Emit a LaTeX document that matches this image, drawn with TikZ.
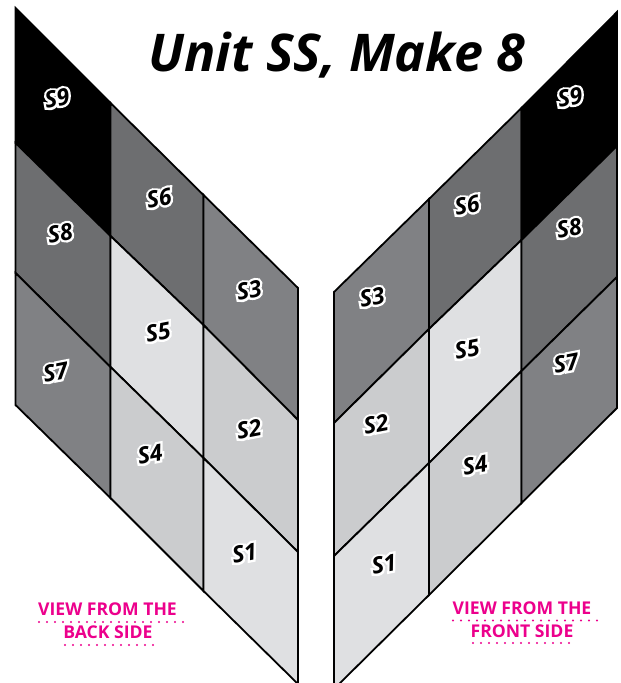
\documentclass[tikz,border=0pt]{standalone}
\usepackage{fontspec}
\setmainfont{Open Sans}
\newfontface\halofont{Open Sans Bold Italic}[FakeBold=20]
\newcommand{\halotext}[1]{\leavevmode\rlap{\color{white}\halofont #1}#1}
\definecolor{shadeblack}{HTML}{000000}
\definecolor{shadedark}{HTML}{6D6E70}
\definecolor{shademid}{HTML}{808184}
\definecolor{shadepale}{HTML}{CBCCCE}
\definecolor{shadelight}{HTML}{DFE0E2}
\definecolor{viewpink}{HTML}{EC008C}
\tikzset{
  panel/.style={draw=black, line width=1.8pt, line join=miter},
  tag/.style={font=\bfseries\itshape\fontsize{23}{23}\selectfont, rotate=11, inner sep=0pt},
  viewtext/.style={font=\bfseries\fontsize{17.6}{18}\selectfont, text=viewpink, inner sep=0pt},
  dots/.style={viewpink, line width=2.4pt, line cap=round, dash pattern=on 0pt off 8pt}
}
\begin{document}
\begin{tikzpicture}[x=1pt, y=-1pt]
    \useasboundingbox (0,0) rectangle (621,683);

    % Corners of the back side panel
    \foreach \c/\x/\ya/\yb/\yc/\yd in {0/15.5/8/143/273/405, 1/110.5/103/236/367/498, 2/203.5/195/325/458/591, 3/298/288/420/552/684} {
        \coordinate (L\c0) at (\x,\ya);
        \coordinate (L\c1) at (\x,\yb);
        \coordinate (L\c2) at (\x,\yc);
        \coordinate (L\c3) at (\x,\yd);
    }
    % Corners of the front side panel
    \foreach \c/\x/\ya/\yb/\yc/\yd in {0/334/292/423/556/689, 1/429/199/329/463/595, 2/521.5/108/240/371/503, 3/617/12/146/277/408} {
        \coordinate (R\c0) at (\x,\ya);
        \coordinate (R\c1) at (\x,\yb);
        \coordinate (R\c2) at (\x,\yc);
        \coordinate (R\c3) at (\x,\yd);
    }

    % Panels, one cell at a time
    \foreach \p/\c/\r/\col in {L/0/0/shadeblack, L/0/1/shadedark, L/0/2/shademid,
                               L/1/0/shadedark, L/1/1/shadelight, L/1/2/shadepale,
                               L/2/0/shademid, L/2/1/shadepale, L/2/2/shadelight,
                               R/0/0/shademid, R/0/1/shadepale, R/0/2/shadelight,
                               R/1/0/shadedark, R/1/1/shadelight, R/1/2/shadepale,
                               R/2/0/shadeblack, R/2/1/shadedark, R/2/2/shademid} {
        \pgfmathtruncatemacro{\cn}{\c+1}
        \pgfmathtruncatemacro{\rn}{\r+1}
        \draw[panel, fill=\col] (\p\c\r) -- (\p\cn\r) -- (\p\cn\rn) -- (\p\c\rn) -- cycle;
    }

    % Labels for the back side
    \foreach \name/\x/\y in {S9/57/98, S8/60/233, S7/55.5/372, S6/159/198, S5/158/332, S4/150/454, S3/249/290, S2/249/429, S1/244.5/553} {
        \node[tag] (back\name) at (\x,\y) {\halotext{\name}};
    }
    % Labels for the front side
    \foreach \name/\x/\y in {S9/570/97, S8/569/228, S7/566/363, S6/467/205, S5/467/349, S4/475/465, S3/372/297, S2/376/424, S1/384/564} {
        \node[tag] (front\name) at (\x,\y) {\halotext{\name}};
    }

    \node[font=\bfseries\itshape\fontsize{52}{52}\selectfont, inner sep=0pt] (title) at (337,55.5) {Unit SS, Make 8};

    % View captions
    \node[viewtext] (backtop) at (107.5,609) {VIEW FROM THE};
    \node[viewtext] (backlow) at (108,632) {BACK SIDE};
    \node[viewtext] (fronttop) at (522,608) {VIEW FROM THE};
    \node[viewtext] (frontlow) at (522,631) {FRONT SIDE};

    \coordinate (a1) at (39,622);  \coordinate (a2) at (183,622);
    \coordinate (b1) at (65,645);  \coordinate (b2) at (153,645);
    \coordinate (c1) at (453,620.5); \coordinate (c2) at (597,620.5);
    \coordinate (d1) at (473,643); \coordinate (d2) at (573,643);
    \draw[dots] (a1) -- (a2);
    \draw[dots] (b1) -- (b2);
    \draw[dots] (c1) -- (c2);
    \draw[dots] (d1) -- (d2);

\end{tikzpicture}
\end{document}
